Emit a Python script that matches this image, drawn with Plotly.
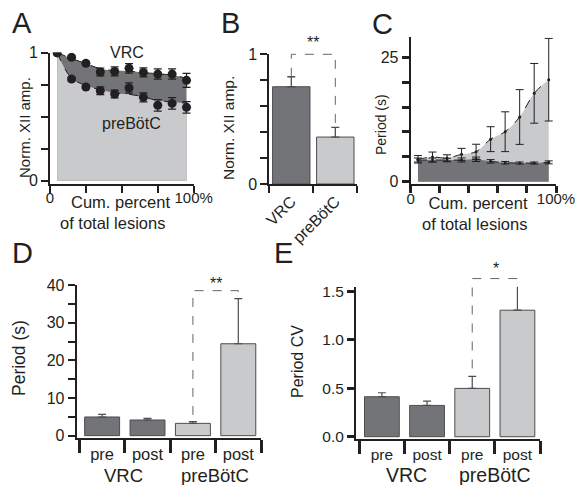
import plotly.graph_objects as go

W, H = 577, 485
FONT = "Liberation Sans, Arial, Helvetica, sans-serif"
DARK = "#737477"
LIGHT = "#c9cacc"
EDGE = "#4d4d4f"
INK = "#231f20"

# ---------------- data ----------------
lesion_pct = [5, 15, 25, 35, 45, 55, 65, 75, 85, 95]

# Panel A: normalized XII amplitude
a_vrc = [1.0, 0.964, 0.917, 0.849, 0.854, 0.878, 0.846, 0.833, 0.833, 0.784]
a_vrc_err = [0.0, 0.012, 0.015, 0.03, 0.035, 0.037, 0.035, 0.04, 0.04, 0.055]
a_vrc_fit = [1.0, 0.955, 0.915, 0.875, 0.86, 0.855, 0.845, 0.835, 0.825, 0.80]
a_pre = [1.0, 0.794, 0.732, 0.703, 0.677, 0.724, 0.651, 0.589, 0.604, 0.573]
a_pre_err = [0.0, 0.015, 0.012, 0.03, 0.03, 0.04, 0.035, 0.045, 0.045, 0.045]
a_pre_fit = [1.0, 0.80, 0.745, 0.71, 0.685, 0.675, 0.655, 0.625, 0.615, 0.605]

# Panel B
b_cats = ["VRC", "preBötC"]
b_vals = [0.75, 0.362]
b_err = [0.077, 0.075]

# Panel C: period (s)
c_pre = [4.5, 4.96, 4.76, 5.5, 6.03, 8.55, 10.05, 13.0, 17.76, 20.5]
c_pre_err = [0.75, 1.0, 0.65, 1.2, 1.5, 2.5, 4.0, 5.5, 6.0, 8.3]
c_vrc = [4.36, 4.36, 4.36, 4.36, 4.5, 4.09, 3.82, 3.75, 3.75, 3.89]
c_vrc_err = [0.4, 0.4, 0.35, 0.4, 0.45, 0.35, 0.25, 0.2, 0.2, 0.3]

# Panels D and E
de_phase = ["pre", "post", "pre", "post"]
de_groups = ["VRC", "preBötC"]
d_vals = [4.96, 4.16, 3.27, 24.4]
d_err = [0.7, 0.45, 0.45, 12.0]
e_vals = [0.413, 0.323, 0.499, 1.307]
e_err = [0.041, 0.045, 0.124, 0.262]
bar_colors = [DARK, DARK, LIGHT, LIGHT]


def px(x):
    return x / W


def py(y):
    return 1 - y / H


# axis placement (pixel domains) and ranges
AX = {
    "A": dict(xd=(50, 193.7), xr=(0, 100), yd=(183.5, 52.7), yr=(-0.022, 1)),
    "B": dict(xd=(269.3, 357.3), xr=(-0.5, 1.5), yd=(184, 54.3), yr=(0, 1)),
    "C": dict(xd=(410.7, 556), xr=(0, 100), yd=(184.2, 37.4), yr=(-0.5, 29)),
    "D": dict(xd=(76.7, 261), xr=(-0.56, 3.5), yd=(438.3, 285), yr=(-0.7, 40)),
    "E": dict(xd=(356, 540), xr=(-0.573, 3.5), yd=(439.3, 286.7), yr=(-0.027, 1.55)),
}


def to_paper(p, xv, yv):
    a = AX[p]
    x0, x1 = a["xd"]
    y0, y1 = a["yd"]
    r0, r1 = a["xr"]
    s0, s1 = a["yr"]
    xp = x0 + (xv - r0) / (r1 - r0) * (x1 - x0)
    ypix = y0 + (yv - s0) / (s1 - s0) * (y1 - y0)
    return px(xp), py(ypix)


fig = go.Figure()

# ---------------- Panel A ----------------
fig.add_trace(go.Scatter(x=lesion_pct, y=a_vrc_fit, mode="lines", line=dict(width=0, shape="spline"),
                         fill="tozeroy", fillcolor=DARK, xaxis="x", yaxis="y", hoverinfo="skip"))
fig.add_trace(go.Scatter(x=lesion_pct, y=a_pre_fit, mode="lines", line=dict(width=0, shape="spline"),
                         fill="tozeroy", fillcolor=LIGHT, xaxis="x", yaxis="y", hoverinfo="skip"))
for fit in (a_vrc_fit, a_pre_fit):
    fig.add_trace(go.Scatter(x=lesion_pct, y=fit, mode="lines",
                             line=dict(color=INK, width=1, dash="dash", shape="spline"),
                             xaxis="x", yaxis="y"))
for vals, err in ((a_vrc, a_vrc_err), (a_pre, a_pre_err)):
    fig.add_trace(go.Scatter(x=lesion_pct, y=vals, mode="markers",
                             marker=dict(color=INK, size=9),
                             error_y=dict(type="data", array=err, color=INK, thickness=1.2, width=4),
                             xaxis="x", yaxis="y"))

# ---------------- Panel B ----------------
fig.add_trace(go.Bar(x=[0, 1], y=b_vals, width=0.85, marker=dict(color=[DARK, LIGHT], line=dict(color=EDGE, width=1)),
                     error_y=dict(type="data", array=b_err, arrayminus=[0, 0], symmetric=False,
                                  color=EDGE, thickness=1.3, width=4),
                     xaxis="x2", yaxis="y2"))

# ---------------- Panel C ----------------
fig.add_trace(go.Scatter(x=lesion_pct, y=c_pre, mode="lines", line=dict(width=0, shape="spline"),
                         fill="tozeroy", fillcolor=LIGHT, xaxis="x3", yaxis="y3", hoverinfo="skip"))
fig.add_trace(go.Scatter(x=lesion_pct, y=c_vrc, mode="lines", line=dict(width=0, shape="spline"),
                         fill="tozeroy", fillcolor=DARK, xaxis="x3", yaxis="y3", hoverinfo="skip"))
for vals, err in ((c_pre, c_pre_err), (c_vrc, c_vrc_err)):
    fig.add_trace(go.Scatter(x=lesion_pct, y=vals, mode="lines+markers",
                             line=dict(color=INK, width=1, dash="dash", shape="spline"),
                             marker=dict(color=INK, size=3),
                             error_y=dict(type="data", array=err, color=INK, thickness=1, width=4),
                             xaxis="x3", yaxis="y3"))

# ---------------- Panels D and E ----------------
for vals, err, xa, ya in ((d_vals, d_err, "x4", "y4"), (e_vals, e_err, "x5", "y5")):
    fig.add_trace(go.Bar(x=[0, 1, 2, 3], y=vals, width=0.77,
                         marker=dict(color=bar_colors, line=dict(color=EDGE, width=1)),
                         error_y=dict(type="data", array=err, arrayminus=[0] * 4, symmetric=False,
                                      color=EDGE, thickness=1.2, width=4),
                         xaxis=xa, yaxis=ya))

# significance brackets (paper-coordinate shapes so they may exceed axis range)
shapes = []


def bracket(p, xl, xr, yl, ytop, yr):
    pts = [to_paper(p, xl, yl), to_paper(p, xl, ytop), to_paper(p, xr, ytop), to_paper(p, xr, yr)]
    path = "M " + " L ".join(f"{a:.5f},{b:.5f}" for a, b in pts)
    shapes.append(dict(type="path", path=path, xref="paper", yref="paper",
                       line=dict(color="#666", width=1, dash="dash")))


bracket("B", 0, 1, b_vals[0] + b_err[0], 1.0, b_vals[1] + b_err[1])
bracket("D", 2, 3, 5.5, 38.5, d_vals[3] + d_err[3])
bracket("E", 2, 3, 0.705, 1.634, e_vals[3] + e_err[3])

# ---------------- axes ----------------
axline = dict(showline=True, linecolor=INK, linewidth=2, showgrid=False, zeroline=False,
              ticks="outside", tickcolor=INK, tickwidth=2, ticklen=7, automargin=False,
              tickfont=dict(family=FONT, size=15, color=INK), fixedrange=True)


def tf(size):
    return dict(family=FONT, size=size, color=INK)


def ax(p, axis, **kw):
    d = dict(axline)
    a = AX[p]
    if axis == "x":
        d["domain"] = [px(a["xd"][0]), px(a["xd"][1])]
        d["range"] = list(a["xr"])
    else:
        d["domain"] = [py(a["yd"][0]), py(a["yd"][1])]
        d["range"] = list(a["yr"])
    d.update(kw)
    return d


fig.update_layout(
    width=W, height=H, margin=dict(l=0, r=0, t=0, b=0, autoexpand=False),
    paper_bgcolor="white", plot_bgcolor="rgba(0,0,0,0)", showlegend=False,
    font=dict(family=FONT, color=INK),
    barmode="overlay", shapes=shapes,
    # A
    xaxis=ax("A", "x", anchor="y", ticklabelstandoff=-8,
             tickvals=[0, 25, 50, 75, 100], ticktext=["0", "", "", "", "100%"], tickwidth=1.5),
    yaxis=ax("A", "y", anchor="x",
             tickvals=[0, 0.25, 0.5, 0.75, 1], ticktext=["0", "", "", "", "1"], tickwidth=1.5,
             tickfont=tf(16)),
    # B
    xaxis2=ax("B", "x", anchor="y2",
              tickvals=[0, 1], ticktext=b_cats, ticklen=0, tickangle=-45, tickfont=tf(16),
              minor=dict(tick0=-0.5, dtick=1, ticks="outside", ticklen=7, tickwidth=2, tickcolor=INK)),
    yaxis2=ax("B", "y", anchor="x2", tickfont=tf(16),
              tickvals=[0, 0.2, 0.4, 0.6, 0.8, 1], ticktext=["0", "", "", "", "", "1"], tickwidth=1.5),
    # C
    xaxis3=ax("C", "x", anchor="y3", ticklabelstandoff=-7,
              tickvals=[0, 20, 40, 60, 80, 100], ticktext=["0", "", "", "", "", "100%"], tickwidth=2.5),
    yaxis3=ax("C", "y", anchor="x3", tickfont=tf(16),
              tickvals=[0, 5, 10, 15, 20, 25], ticktext=["0", "", "", "", "", "25"], tickwidth=2.5),
    # D
    xaxis4=ax("D", "x", anchor="y4", tickfont=tf(16.5),
              tickvals=[0, 1, 2, 3], ticktext=de_phase, ticklen=0,
              minor=dict(tick0=-0.5, dtick=1, ticks="outside", ticklen=13, tickwidth=3, tickcolor=INK)),
    yaxis4=ax("D", "y", anchor="x4", tickfont=tf(16),
              tickvals=[0, 5, 10, 15, 20, 25, 30, 35, 40],
              ticktext=["0", "", "10", "", "20", "", "30", "", "40"], tickwidth=2),
    # E
    xaxis5=ax("E", "x", anchor="y5", tickfont=tf(15.5),
              tickvals=[0, 1, 2, 3], ticktext=de_phase, ticklen=0,
              minor=dict(tick0=-0.5, dtick=1, ticks="outside", ticklen=13, tickwidth=3, tickcolor=INK)),
    yaxis5=ax("E", "y", anchor="x5", tickfont=tf(15.5),
              tickvals=[0, 0.5, 1.0, 1.5], ticktext=["0.0", "0.5", "1.0", "1.5"], tickwidth=2.5),
)

ann = []


def text(x, y, t, size=15, angle=0, xanchor="center", align="center"):
    ann.append(dict(x=px(x), y=py(y), xref="paper", yref="paper", text=t, showarrow=False,
                    xanchor=xanchor, yanchor="middle", textangle=angle, align=align,
                    font=dict(family=FONT, size=size, color=INK)))


# panel letters
for lt, (x, y) in {"A": (22, 23), "B": (230, 23), "C": (382, 24), "D": (22, 253), "E": (283, 253)}.items():
    text(x, y, lt, size=29)

NB = "\u00a0"
# Panel A labels
text(127.3, 52.7, "VRC", 16)
text(131.7, 123.3, "preBötC", 16)
text(25, 128, "Norm. XII amp.", 15, -90)
text(172, 212, "Cum. percent<br>of total lesions" + NB, 16.5, xanchor="right", align="right")
# Panel B
text(229, 128, "Norm. XII amp.", 15.5, -90)
text(313, 42, "**", 16)
# Panel C
text(381, 125, "Period (s)", 14, -90)
text(530, 213, "Cum. percent<br>of total lesions", 16.5, xanchor="right", align="right")
# Panel D
text(19, 358, "Period (s)", 17.5, -90)
text(216, 283, "**", 16)
text(123.5, 475, de_groups[0], 18.5)
text(215, 475, de_groups[1], 18.5)
# Panel E
text(297, 362, "Period CV", 16, -90)
text(496, 268, "*", 16)
text(406.7, 475, de_groups[0], 19.5)
text(495, 475, de_groups[1], 19.5)

fig.update_layout(annotations=ann)
fig.write_html("out.html", config={"displayModeBar": False},
               post_script="document.body.style.margin='0';document.body.style.overflow='hidden';")
